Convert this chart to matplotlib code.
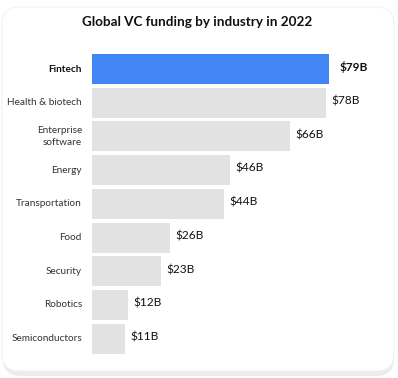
import matplotlib.pyplot as plt
from matplotlib.patches import FancyBboxPatch
from matplotlib.transforms import blended_transform_factory

industries = ["Fintech", "Health & biotech", "Enterprise\nsoftware", "Energy",
              "Transportation", "Food", "Security", "Robotics", "Semiconductors"]
funding = [79, 78, 66, 46, 44, 26, 23, 12, 11]
value_labels = ["$79B", "$78B", "$66B", "$46B", "$44B", "$26B", "$23B", "$12B", "$11B"]

plt.rcParams['font.family'] = ['Lato', 'DejaVu Sans']

W, H = 398, 378
fig = plt.figure(figsize=(W / 100, H / 100), dpi=100)
fig.patch.set_facecolor('white')

# card with soft shadow at the bottom
shadow = FancyBboxPatch((3 / W, 2 / H), 391 / W, 364 / H,
                        boxstyle="round,pad=0,rounding_size=0.045",
                        transform=fig.transFigure, fc='#ececec', ec='none', zorder=0)
card = FancyBboxPatch((2 / W, 7 / H), 392 / W, 364 / H,
                      boxstyle="round,pad=0,rounding_size=0.045",
                      transform=fig.transFigure, fc='white', ec='#f2f2f2', lw=0.8, zorder=1)
fig.patches.extend([shadow, card])

fig.text(197 / W, 1 - 22 / H, "Global VC funding by industry in 2022",
         ha='center', va='center', fontsize=9.7, fontweight='bold', color='#111111')

ax = fig.add_axes([92 / W, 1 - 355.5 / H, 300 / W, 303.3 / H])
ax.set_facecolor('none')
ax.set_zorder(2)
ypos = list(range(len(industries)))
colors = ['#4285f4'] + ['#e2e2e2'] * (len(industries) - 1)
ax.barh(ypos, funding, height=0.89, color=colors)
ax.set_xlim(0, 100)
ax.set_ylim(len(industries) - 0.5, -0.5)
ax.axis('off')

lab_tr = blended_transform_factory(fig.transFigure, ax.transData)
for i, name in enumerate(industries):
    bold = i == 0
    ax.text(82 / W, i, name, transform=lab_tr, ha='right', va='center',
            fontsize=7.2, fontweight='bold' if bold else 'normal',
            color='#111111' if bold else '#333333', linespacing=1.35)
    ax.text(funding[i] + (3.5 if bold else 1.7), i - 0.05, value_labels[i],
            ha='left', va='center', fontsize=8.6,
            fontweight='bold' if bold else 'normal', color='#111111')

fig.savefig("out.png", dpi=100, facecolor=fig.get_facecolor())
